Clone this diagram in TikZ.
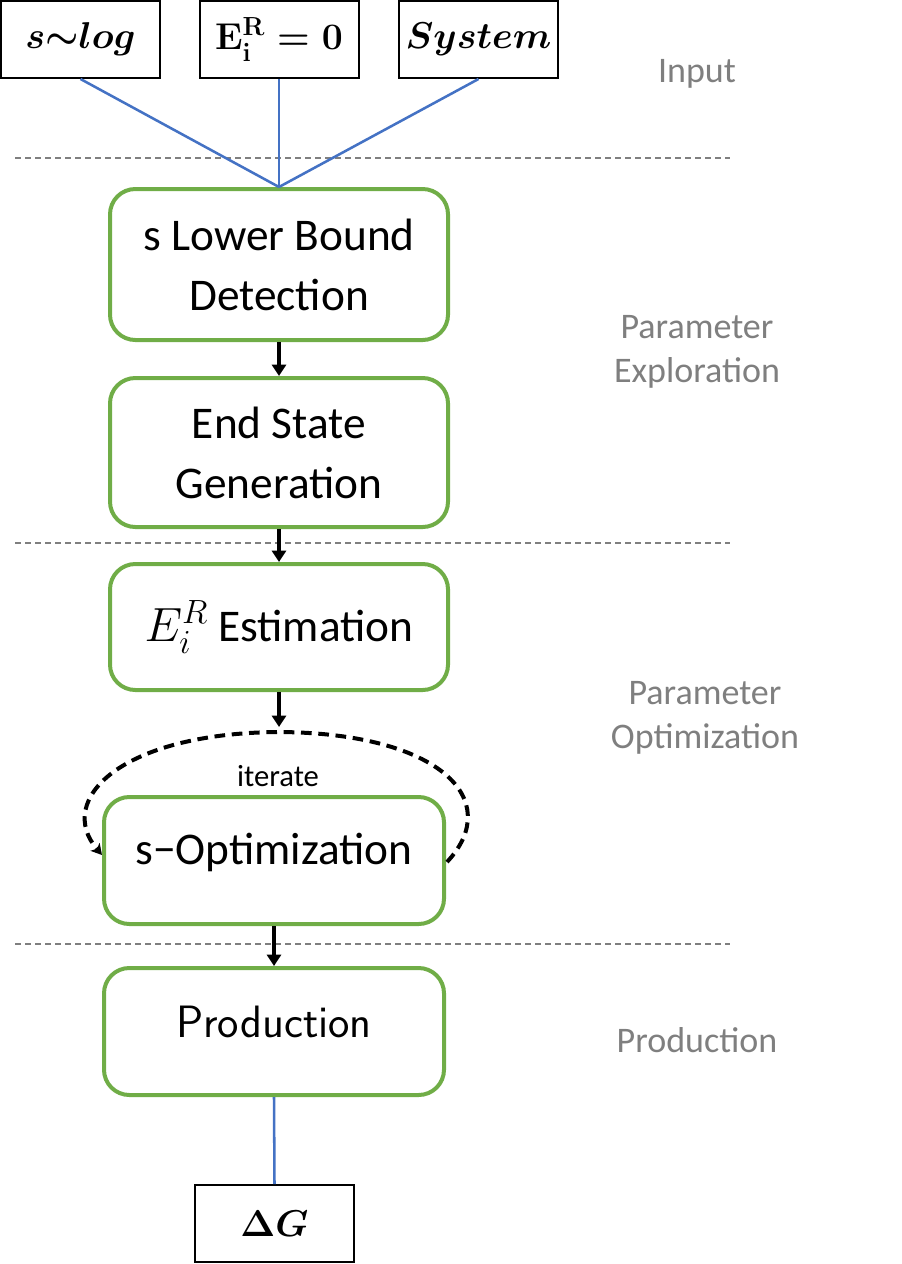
\RequirePackage{fix-cm}
\documentclass[tikz,border=0pt]{standalone}
\usepackage{amsmath,bm}
\usepackage{fontspec}
\setmainfont{Carlito}
\usetikzlibrary{arrows.meta}
\definecolor{ggreen}{HTML}{70AD47}
\definecolor{bblue}{HTML}{4472C4}
\definecolor{lgray}{HTML}{7F7F7F}
\tikzset{
  inbox/.style={draw=black, line width=1.5pt, minimum width=119.25pt, minimum height=57.75pt, inner sep=0pt, font=\fontsize{28}{32}\selectfont},
  gbox/.style={draw=ggreen, line width=3pt, rounded corners=19pt, minimum width=253.5pt, align=center, inner sep=0pt, font=\fontsize{34}{45}\selectfont},
  conn/.style={draw=bblue, line width=1.9pt},
  flow/.style={line width=2.8pt, -{Triangle[length=8.5pt,width=10.5pt]}},
  sepline/.style={draw=lgray, line width=1.1pt, dash pattern=on 4.5pt off 3pt},
  stage/.style={text=lgray, align=center, font=\fontsize{27}{33}\selectfont},
  loopline/.style={line width=3pt, dash pattern=on 8pt off 5pt, -{Stealth[length=8pt,width=9pt,inset=2pt]}},
}
\begin{document}
\begin{tikzpicture}[x=0.75pt,y=-0.75pt]
\useasboundingbox (0,0) rectangle (901,1264);
% separators
\coordinate (s1a) at (15,158); \coordinate (s1b) at (730,158);
\coordinate (s2a) at (15,543); \coordinate (s2b) at (730,543);
\coordinate (s3a) at (15,944); \coordinate (s3b) at (730,944);
\draw[sepline] (s1a) -- (s1b);
\draw[sepline] (s2a) -- (s2b);
\draw[sepline] (s3a) -- (s3b);
% inputs
\node[inbox] (in1) at (80.5,39.5) {\raisebox{6pt}{$\bm{s\mathord{\sim}log}$}};
\node[inbox] (in2) at (279,39.5) {\raisebox{6pt}{\boldmath$\mathbf{E}_{\mathbf{i}}^{\mathbf{R}}=\mathbf{0}$}};
\node[inbox] (in3) at (478.5,39.5) {\raisebox{6pt}{$\bm{System}$}};
% boxes
\node[gbox, minimum height=113.25pt] (b1) at (279,264.5) {s Lower Bound\\Detection};
\node[gbox, minimum height=111.75pt] (b2) at (279,452.5) {End State\\Generation};
\node[gbox, minimum height=94.5pt] (b3) at (279,627) {{\fontsize{36}{45}\selectfont$E_i^R$} Estimation};
\node[gbox, minimum width=255pt, minimum height=95.25pt, text depth=17pt] (b4) at (274,860.5) {s\textminus Optimization};
\node[gbox, minimum width=255pt, minimum height=95.25pt, text depth=14pt, font=\fontsize{34}{45}\sffamily] (b5) at (274,1031.5) {Production};
\node[inbox] (dg) at (274.5,1223.5) {$\bm{\Delta G}$};
% input connectors
\coordinate (join) at (279,187);
\draw[conn] (in1.south) -- (join);
\draw[conn] (in2.south) -- (join);
\draw[conn] (in3.south) -- (join);
% flow
\coordinate (looptop) at (279,727);
\draw[flow] (b1.south) -- (b2.north);
\draw[flow] (b2.south) -- (b3.north);
\draw[flow] (b3.south) -- (looptop);
\draw[flow] (b4.south) -- (b5.north);
\draw[conn] (b5.south) -- (dg.north);
% iterate loop
\coordinate (lr) at (447,862);
\coordinate (lt) at (279,732);
\coordinate (ll) at (102,855);
\draw[loopline] (lr) .. controls (505,800) and (440,733) .. (lt) .. controls (120,733) and (55,800) .. (ll);
\node[font=\fontsize{23}{28}\selectfont] (it) at (278,776) {iterate};
% stage labels
\node[stage] (st1) at (697,74) {Input};
\node[stage] (st2) at (697,352) {Parameter\\Exploration};
\node[stage] (st3) at (705,718) {Parameter\\Optimization};
\node[stage] (st4) at (697,1040) {Production};
\end{tikzpicture}
\end{document}
